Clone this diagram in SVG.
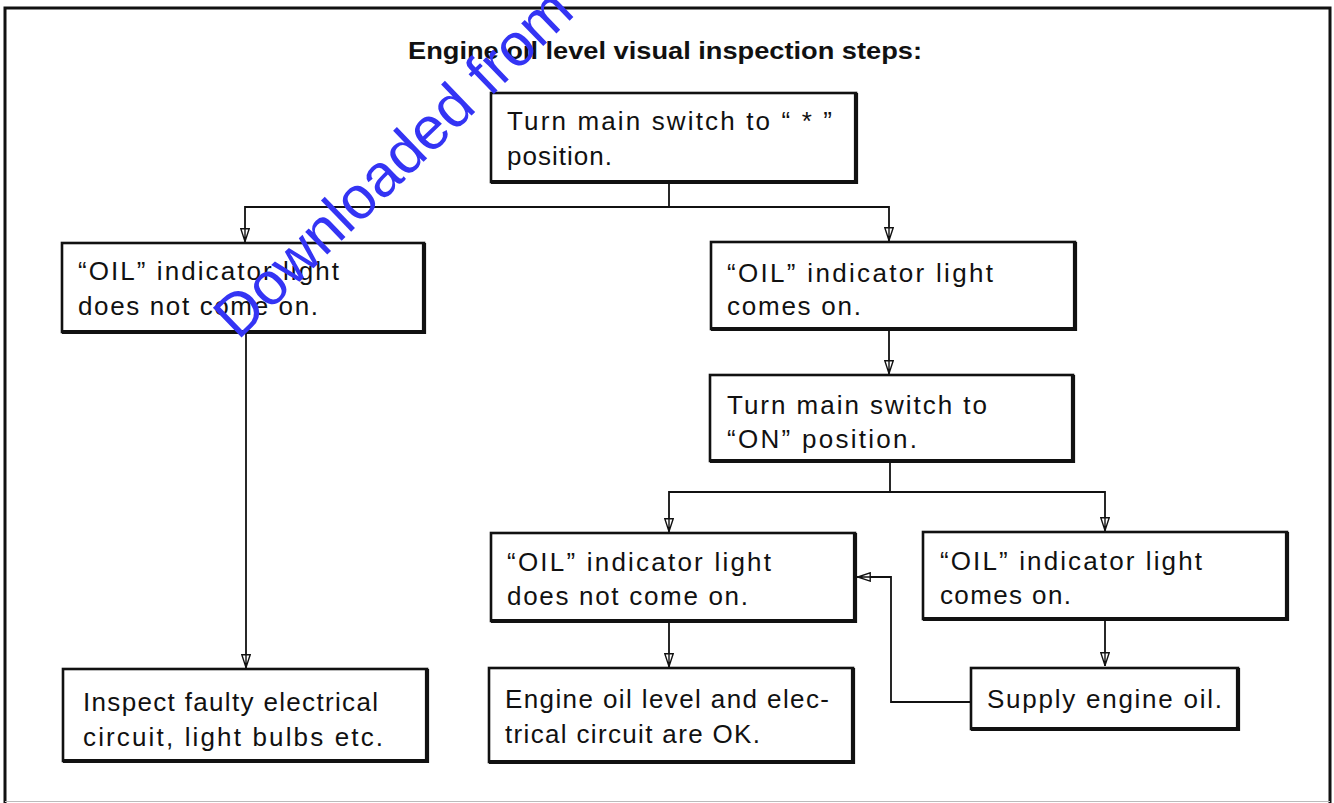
<svg xmlns="http://www.w3.org/2000/svg" width="1334" height="803" viewBox="0 0 1334 803">
<style>
.frame{fill:none;stroke:#111;stroke-width:3}
.box{fill:#fff;stroke:#111;stroke-width:2.6}
.sh{fill:none;stroke:#111;stroke-width:4.2}
.t{font-family:"Liberation Sans",Arial,sans-serif;font-size:26px;fill:#111}
.title{font-family:"Liberation Sans",Arial,sans-serif;font-size:24px;font-weight:bold;fill:#111}
.c{fill:none;stroke:#111;stroke-width:1.8}
.wm{font-family:"Liberation Sans",Arial,sans-serif;font-size:60px;fill:#3434f4}
</style>
<defs>
<marker id="arr" viewBox="0 0 14 10" refX="14" refY="5" markerWidth="14" markerHeight="10" markerUnits="userSpaceOnUse" orient="auto">
<path d="M0.8,0.8 L13.5,5 L0.8,9.2 Z M0,5 L14,5" fill="#fff" stroke="#111" stroke-width="1.4"/>
</marker>
</defs>
<rect width="1334" height="803" fill="#fff"/>
<path class="frame" d="M5,803 L5,8 L1330,8 L1330,803"/>
<line x1="5" y1="801.5" x2="1330" y2="801.5" stroke="#bbb" stroke-width="1"/>
<text class="title" x="408" y="59" textLength="514" lengthAdjust="spacingAndGlyphs">Engine oil level visual inspection steps:</text>

<g id="connectors">
<path class="c" d="M669,182 L669,207"/>
<path class="c" d="M669,207 L245,207 L245,242" marker-end="url(#arr)"/>
<path class="c" d="M669,207 L889,207 L889,241" marker-end="url(#arr)"/>
<path class="c" d="M889,329 L889,374" marker-end="url(#arr)"/>
<path class="c" d="M890,461 L890,492"/>
<path class="c" d="M890,492 L669,492 L669,532" marker-end="url(#arr)"/>
<path class="c" d="M890,492 L1105,492 L1105,531" marker-end="url(#arr)"/>
<path class="c" d="M669,621 L669,667" marker-end="url(#arr)"/>
<path class="c" d="M1105,619 L1105,666" marker-end="url(#arr)"/>
<path class="c" d="M246,332 L246,668" marker-end="url(#arr)"/>
<path class="c" d="M971,702 L891,702 L891,577 L857,577" marker-end="url(#arr)"/>
</g>

<g id="n1">
<rect class="box" x="491" y="93" width="365" height="89"/>
<path class="sh" d="M856,93 V182 H491"/>
<text class="t" x="507" y="130" textLength="325" lengthAdjust="spacing">Turn main switch to “ * ”</text>
<text class="t" x="507" y="165" textLength="105" lengthAdjust="spacing">position.</text>
</g>
<g id="n2">
<rect class="box" x="62" y="243" width="362" height="89"/>
<path class="sh" d="M424,243 V332 H62"/>
<text class="t" x="78" y="280" textLength="261" lengthAdjust="spacing">“OIL” indicator light</text>
<text class="t" x="78" y="315" textLength="240" lengthAdjust="spacing">does not come on.</text>
</g>
<g id="n3">
<rect class="box" x="711" y="242" width="364" height="87"/>
<path class="sh" d="M1075,242 V329 H711"/>
<text class="t" x="727" y="282" textLength="266" lengthAdjust="spacing">“OIL” indicator light</text>
<text class="t" x="727" y="315" textLength="134" lengthAdjust="spacing">comes on.</text>
</g>
<g id="n4">
<rect class="box" x="710" y="375" width="363" height="86"/>
<path class="sh" d="M1073,375 V461 H710"/>
<text class="t" x="727" y="414" textLength="260" lengthAdjust="spacing">Turn main switch to</text>
<text class="t" x="727" y="448" textLength="190" lengthAdjust="spacing">“ON” position.</text>
</g>
<g id="n5">
<rect class="box" x="491" y="533" width="364" height="88"/>
<path class="sh" d="M855,533 V621 H491"/>
<text class="t" x="507" y="571" textLength="264" lengthAdjust="spacing">“OIL” indicator light</text>
<text class="t" x="507" y="605" textLength="241" lengthAdjust="spacing">does not come on.</text>
</g>
<g id="n6">
<rect class="box" x="923" y="532" width="364" height="87"/>
<path class="sh" d="M1287,532 V619 H923"/>
<text class="t" x="940" y="570" textLength="262" lengthAdjust="spacing">“OIL” indicator light</text>
<text class="t" x="940" y="604" textLength="131" lengthAdjust="spacing">comes on.</text>
</g>
<g id="n7">
<rect class="box" x="489" y="668" width="364" height="94"/>
<path class="sh" d="M853,668 V762 H489"/>
<text class="t" x="505" y="708" textLength="324" lengthAdjust="spacing">Engine oil level and elec-</text>
<text class="t" x="505" y="743" textLength="255" lengthAdjust="spacing">trical circuit are OK.</text>
</g>
<g id="n8">
<rect class="box" x="971" y="668" width="267" height="61"/>
<path class="sh" d="M1238,668 V729 H971"/>
<text class="t" x="987" y="708" textLength="235" lengthAdjust="spacing">Supply engine oil.</text>
</g>
<g id="n9">
<rect class="box" x="63" y="669" width="364" height="92"/>
<path class="sh" d="M427,669 V761 H63"/>
<text class="t" x="83" y="711" textLength="295" lengthAdjust="spacing">Inspect faulty electrical</text>
<text class="t" x="83" y="746" textLength="300" lengthAdjust="spacing">circuit, light bulbs etc.</text>
</g>

<text class="wm" transform="translate(238,341) rotate(-44)">Downloaded from</text>
</svg>
